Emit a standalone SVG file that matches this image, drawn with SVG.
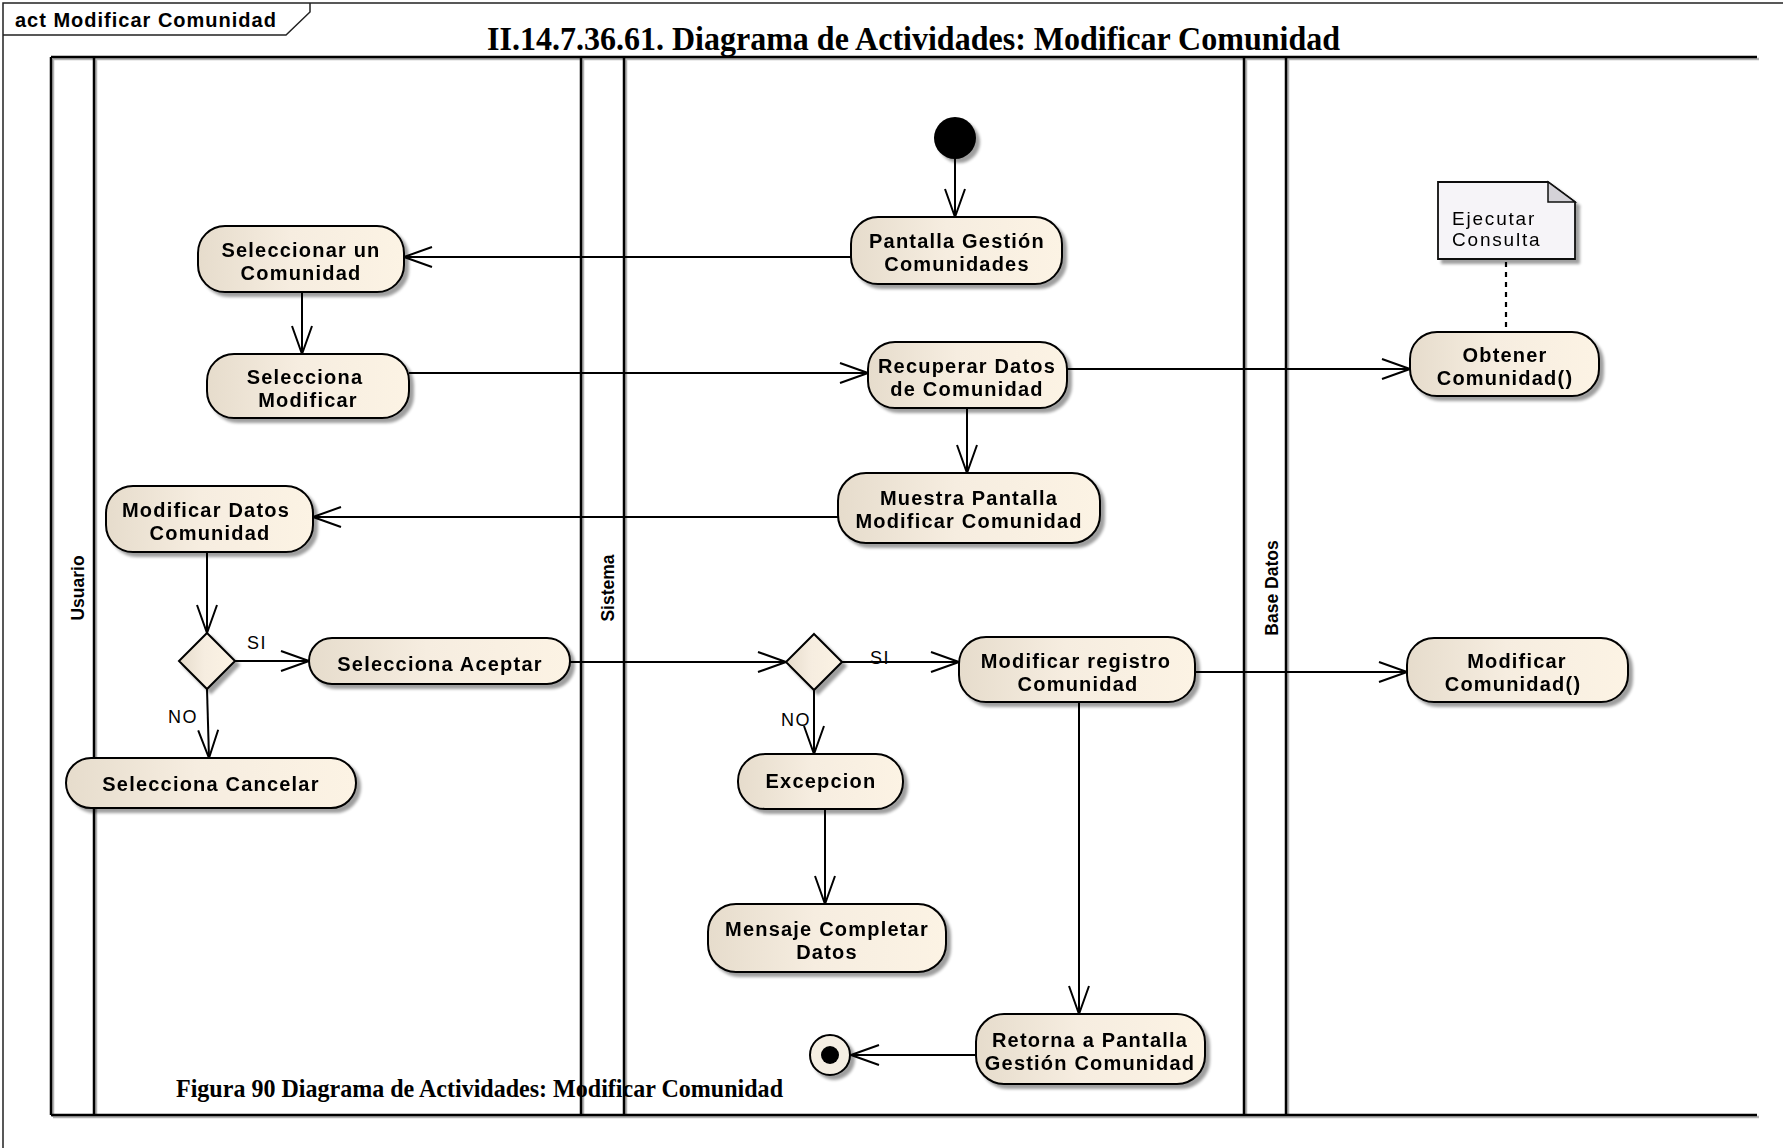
<svg xmlns="http://www.w3.org/2000/svg" width="1783" height="1148" viewBox="0 0 1783 1148">
  <defs>
    <linearGradient id="nodeFill" x1="0" y1="0" x2="1" y2="0">
      <stop offset="0" stop-color="#e6dccc"/>
      <stop offset="0.45" stop-color="#f6ede0"/>
      <stop offset="1" stop-color="#fcf3e4"/>
    </linearGradient>
    <filter id="shadow" x="-10%" y="-10%" width="130%" height="150%">
      <feGaussianBlur in="SourceAlpha" stdDeviation="1.5"/>
      <feOffset dx="4" dy="4" result="off"/>
      <feComponentTransfer><feFuncA type="linear" slope="0.38"/></feComponentTransfer>
      <feMerge><feMergeNode/><feMergeNode in="SourceGraphic"/></feMerge>
    </filter>
    <filter id="laneShadow" x="-5%" y="-5%" width="110%" height="110%">
      <feOffset in="SourceAlpha" dx="2" dy="2"/>
      <feComponentTransfer><feFuncA type="linear" slope="0.3"/></feComponentTransfer>
      <feMerge><feMergeNode/><feMergeNode in="SourceGraphic"/></feMerge>
    </filter>
    <marker id="open" viewBox="0 0 30 22" refX="29" refY="11" markerWidth="30" markerHeight="22" markerUnits="userSpaceOnUse" orient="auto">
      <path d="M1,1 L29,11 L1,21" fill="none" stroke="#000" stroke-width="2"/>
    </marker>
    <style>
      .frame { fill:none; stroke:#222; stroke-width:1.5 }
      .lane { stroke:#000; stroke-width:2.5; fill:none }
      .act { fill:url(#nodeFill); stroke:#000; stroke-width:2 }
      .label { font-family:"Liberation Sans", Arial, sans-serif; font-weight:bold; font-size:20px; letter-spacing:1.2px; text-anchor:middle; fill:#000 }
      .tab { font-family:"Liberation Sans", Arial, sans-serif; font-weight:bold; font-size:20px; letter-spacing:1px; fill:#000 }
      .laneName { font-family:"Liberation Sans", Arial, sans-serif; font-weight:bold; font-size:17.5px; text-anchor:middle; fill:#000 }
      .guard { font-family:"Liberation Sans", Arial, sans-serif; font-size:18px; letter-spacing:1.5px; fill:#000 }
      .noteText { font-family:"Liberation Sans", Arial, sans-serif; font-size:19px; letter-spacing:1.8px; fill:#000 }
      .heading { font-family:"Liberation Serif", "Times New Roman", serif; font-weight:bold; fill:#000 }
      .flow { fill:none; stroke:#000; stroke-width:2; marker-end:url(#open) }
      .anchor { fill:none; stroke:#000; stroke-width:2.2; stroke-dasharray:5 5 }
    </style>
  </defs>

  <rect width="1783" height="1148" fill="#fff"/>

  <!-- diagram frame with name tab -->
  <g id="frame">
    <path class="frame" d="M3,1148 V3 H1783"/>
    <path class="frame" d="M3,35 H286 L310,12 V3"/>
    <text x="15" y="27" class="tab">act Modificar Comunidad</text>
  </g>

  <text id="title" class="heading" x="487" y="50" font-size="34" textLength="853" lengthAdjust="spacingAndGlyphs">II.14.7.36.61. Diagrama de Actividades: Modificar Comunidad</text>

  <!-- swimlanes -->
  <g id="lanes" filter="url(#laneShadow)">
    <path class="lane" d="M51,57 H1757 M51,1115 H1757"/>
    <path class="lane" d="M51,57 V1115 M94,57 V1115 M581,57 V1115 M624,57 V1115 M1244,57 V1115 M1286,57 V1115"/>
  </g>
  <g id="laneNames">
    <text class="laneName" transform="translate(84,588) rotate(-90)">Usuario</text>
    <text class="laneName" transform="translate(614,588) rotate(-90)">Sistema</text>
    <text class="laneName" transform="translate(1278,588) rotate(-90)">Base Datos</text>
  </g>

  <text id="caption" class="heading" x="176" y="1097" font-size="25" textLength="607" lengthAdjust="spacingAndGlyphs">Figura 90 Diagrama de Actividades: Modificar Comunidad</text>

  <!-- control flows -->
  <g id="connectors">
    <path class="flow" d="M955,159 V217"/>
    <path class="flow" d="M851,257 H404"/>
    <path class="flow" d="M302,292 V354"/>
    <path class="flow" d="M409,373 H868"/>
    <path class="flow" d="M1067,369 H1410"/>
    <path class="flow" d="M967,408 V473"/>
    <path class="flow" d="M838,517 H313"/>
    <path class="flow" d="M207,552 V633"/>
    <path class="flow" d="M235,661 H309"/>
    <path class="flow" d="M207,689 L209,758"/>
    <path class="flow" d="M570,662 H786"/>
    <path class="flow" d="M842,662 H959"/>
    <path class="flow" d="M814,690 V754"/>
    <path class="flow" d="M825,809 V904"/>
    <path class="flow" d="M1079,702 V1014"/>
    <path class="flow" d="M976,1055 H851"/>
    <path class="flow" d="M1195,672 H1407"/>
    <path class="anchor" d="M1506,262 V332"/>
    <text class="guard" x="247" y="649">SI</text>
    <text class="guard" x="168" y="723">NO</text>
    <text class="guard" x="870" y="664">SI</text>
    <text class="guard" x="781" y="726">NO</text>
  </g>

  <!-- nodes -->
  <g id="initial" filter="url(#shadow)">
    <circle cx="955" cy="138" r="21" fill="#000"/>
  </g>

  <g id="pantallaGestion" filter="url(#shadow)">
    <rect class="act" x="851" y="217" width="211" height="67" rx="27"/>
    <text class="label" x="957" y="248">Pantalla Gestión</text>
    <text class="label" x="957" y="271">Comunidades</text>
  </g>

  <g id="seleccionarComunidad" filter="url(#shadow)">
    <rect class="act" x="198" y="226" width="206" height="66" rx="27"/>
    <text class="label" x="301" y="257">Seleccionar un</text>
    <text class="label" x="301" y="280">Comunidad</text>
  </g>

  <g id="seleccionaModificar" filter="url(#shadow)">
    <rect class="act" x="207" y="354" width="202" height="64" rx="27"/>
    <text class="label" x="305" y="384">Selecciona</text>
    <text class="label" x="308" y="407">Modificar</text>
  </g>

  <g id="recuperarDatos" filter="url(#shadow)">
    <rect class="act" x="868" y="342" width="199" height="66" rx="27"/>
    <text class="label" x="967" y="373">Recuperar Datos</text>
    <text class="label" x="967" y="396">de Comunidad</text>
  </g>

  <g id="obtenerComunidad" filter="url(#shadow)">
    <rect class="act" x="1410" y="332" width="189" height="64" rx="27"/>
    <text class="label" x="1505" y="362">Obtener</text>
    <text class="label" x="1505" y="385">Comunidad()</text>
  </g>

  <g id="notaConsulta" filter="url(#shadow)">
    <path d="M1438,182 H1548 L1575,202 V259 H1438 Z" fill="#f6f4f8" stroke="#111" stroke-width="1.8"/>
    <path d="M1548,182 V202 H1575 Z" fill="#d4d2d8" stroke="#111" stroke-width="1.5"/>
    <text class="noteText" x="1452" y="225">Ejecutar</text>
    <text class="noteText" x="1452" y="246">Consulta</text>
  </g>

  <g id="muestraPantalla" filter="url(#shadow)">
    <rect class="act" x="838" y="473" width="262" height="70" rx="28"/>
    <text class="label" x="969" y="505">Muestra Pantalla</text>
    <text class="label" x="969" y="528">Modificar Comunidad</text>
  </g>

  <g id="modificarDatos" filter="url(#shadow)">
    <rect class="act" x="106" y="486" width="207" height="66" rx="27"/>
    <text class="label" x="206" y="517">Modificar Datos</text>
    <text class="label" x="210" y="540">Comunidad</text>
  </g>

  <g id="decisionUsuario" filter="url(#shadow)">
    <path class="act" d="M207,633 L235,661 L207,689 L179,661 Z"/>
  </g>

  <g id="seleccionaAceptar" filter="url(#shadow)">
    <rect class="act" x="309" y="638" width="261" height="46" rx="23"/>
    <text class="label" x="440" y="671">Selecciona Aceptar</text>
  </g>

  <g id="seleccionaCancelar" filter="url(#shadow)">
    <rect class="act" x="66" y="758" width="290" height="50" rx="25"/>
    <text class="label" x="211" y="791">Selecciona Cancelar</text>
  </g>

  <g id="decisionSistema" filter="url(#shadow)">
    <path class="act" d="M814,634 L842,662 L814,690 L786,662 Z"/>
  </g>

  <g id="modificarRegistro" filter="url(#shadow)">
    <rect class="act" x="959" y="637" width="236" height="65" rx="27"/>
    <text class="label" x="1076" y="668">Modificar registro</text>
    <text class="label" x="1078" y="691">Comunidad</text>
  </g>

  <g id="excepcion" filter="url(#shadow)">
    <rect class="act" x="738" y="754" width="165" height="55" rx="27"/>
    <text class="label" x="821" y="788">Excepcion</text>
  </g>

  <g id="mensajeCompletar" filter="url(#shadow)">
    <rect class="act" x="708" y="904" width="238" height="68" rx="28"/>
    <text class="label" x="827" y="936">Mensaje Completar</text>
    <text class="label" x="827" y="959">Datos</text>
  </g>

  <g id="retornaPantalla" filter="url(#shadow)">
    <rect class="act" x="976" y="1014" width="229" height="70" rx="28"/>
    <text class="label" x="1090" y="1047">Retorna a Pantalla</text>
    <text class="label" x="1090" y="1070">Gestión Comunidad</text>
  </g>

  <g id="modificarComunidad" filter="url(#shadow)">
    <rect class="act" x="1407" y="638" width="221" height="64" rx="27"/>
    <text class="label" x="1517" y="668">Modificar</text>
    <text class="label" x="1513" y="691">Comunidad()</text>
  </g>

  <g id="final" filter="url(#shadow)">
    <circle cx="830" cy="1055" r="20" fill="#f4eee2" stroke="#000" stroke-width="2"/>
    <circle cx="830" cy="1055" r="9" fill="#000"/>
  </g>
</svg>
